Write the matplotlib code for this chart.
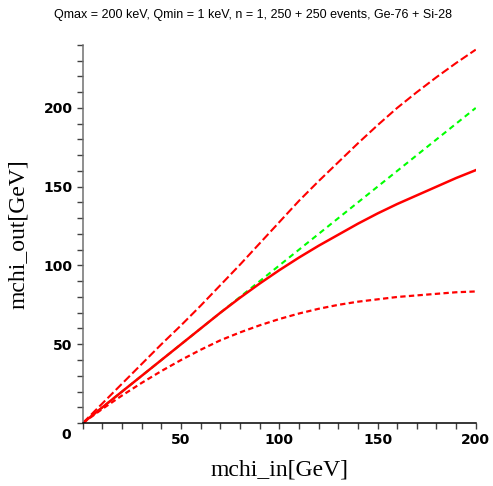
import numpy as np
import matplotlib.pyplot as plt
from matplotlib.ticker import MultipleLocator

# mass (GeV)
mchi_in = [0, 10, 20, 30, 40, 50, 60, 70, 80, 90, 100,
           110, 120, 130, 140, 150, 160, 170, 180, 190, 200]
mchi_true = [0, 10, 20, 30, 40, 50, 60, 70, 80, 90, 100,
             110, 120, 130, 140, 150, 160, 170, 180, 190, 200]
mchi_rec = [0, 10, 20, 30, 40, 50, 60, 70, 79.5, 88.5, 97,
            105, 112.5, 119.5, 126.5, 133, 139, 144.5, 150, 155.5, 160.5]
mchi_hi = [0, 12.5, 25, 37.5, 50, 62, 74.5, 87.5, 100.5, 114, 127.5,
           141, 153.5, 165.5, 177.5, 189, 200, 210, 219.5, 228.5, 237]
mchi_lo = [0, 9, 17.5, 25.5, 33, 40, 46.5, 52.5, 57.5, 62, 66,
           69.5, 72.5, 75, 77, 78.5, 80, 81, 82, 83, 83.5]

titel = "Qmax = 200 keV, Qmin = 1 keV, n = 1, 250 + 250 events, Ge-76 + Si-28"

fig = plt.figure(figsize=(4.93, 4.86), dpi=100)
ax = fig.add_axes([0.168, 0.1296, 0.797, 0.778])

ax.plot(mchi_in, mchi_true, color='#00ff00', lw=1.5, dashes=(2.7, 2.0))
ax.plot(mchi_in, mchi_hi, color='red', lw=1.5, dashes=(4, 1.6))
ax.plot(mchi_in, mchi_lo, color='red', lw=1.6, dashes=(2.4, 1.5))
ax.plot(mchi_in, mchi_rec, color='red', lw=1.8)

ax.set_xlim(0, 200)
ax.set_ylim(0, 240)

for s in ['top', 'right']:
    ax.spines[s].set_visible(False)
ax.spines['bottom'].set_color('black')
ax.spines['left'].set_color('#707070')
ax.spines['bottom'].set_linewidth(1.1)
ax.spines['left'].set_linewidth(1.1)

ax.set_xticks([50, 100, 150, 200])
ax.set_yticks([50, 100, 150, 200])
ax.xaxis.set_minor_locator(MultipleLocator(10))
ax.yaxis.set_minor_locator(MultipleLocator(10))
ax.tick_params(which='both', direction='out', length=4, width=1, colors='#404040',
               labelcolor='black', labelsize=10)
for lab in ax.get_xticklabels() + ax.get_yticklabels():
    lab.set_fontweight('bold')
ax.text(-6, -3, "0", fontsize=10, fontweight='bold', ha='right', va='top')

ax.set_xlabel("mchi_in[GeV]", family='Liberation Serif', fontsize=17, labelpad=9)
ax.set_ylabel("mchi_out[GeV]", family='Liberation Serif', fontsize=17, labelpad=10)

fig.text(0.513, 0.969, titel, family='Liberation Sans', fontsize=9,
         ha='center', va='center')

fig.savefig("out.png", dpi=100)
